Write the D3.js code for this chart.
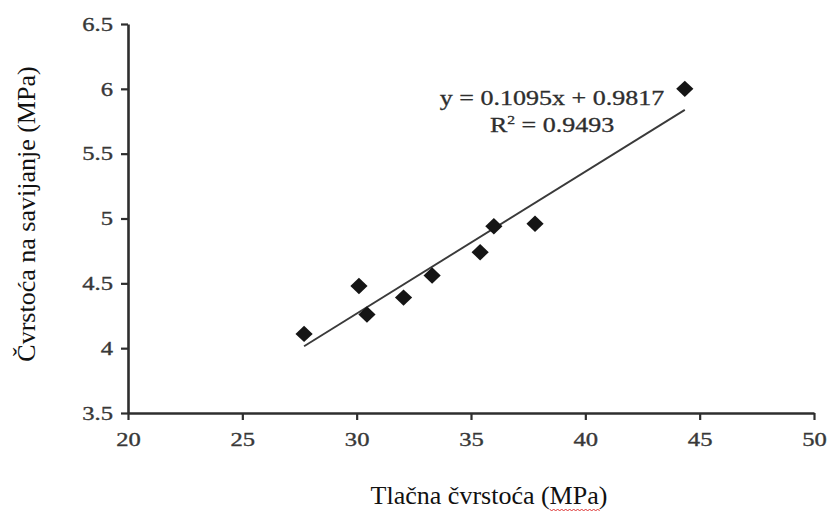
<!DOCTYPE html>
<html>
<head>
<meta charset="utf-8">
<script src="https://cdn.jsdelivr.net/npm/d3@7"></script>
<style>
  html, body { margin: 0; padding: 0; background: #fff; }
  svg { display: block; }
</style>
</head>
<body>
<svg id="chart" width="829" height="513"></svg>
<script>
// ---- data ----
const compressive = [27.7, 30.1, 30.45, 32.05, 33.3, 35.4, 36.0, 37.8, 44.35];
const flexural    = [4.11, 4.48, 4.26, 4.39, 4.56, 4.74, 4.94, 4.96, 6.0];
const slope = 0.1095;
const intercept = 0.9817;
const equationText = "y = 0.1095x + 0.9817";
const r2Text = "0.9493";
const xTicks = [20, 25, 30, 35, 40, 45, 50];
const yTicks = [3.5, 4, 4.5, 5, 5.5, 6, 6.5];
const xTitle = "Tlačna čvrstoća (MPa)";
const yTitle = "Čvrstoća na savijanje (MPa)";

// ---- layout ----
const svg = d3.select("#chart");
const font = "Liberation Serif, Times New Roman, serif";
const stretch = 1.33;

const x = d3.scaleLinear().domain([20, 50]).range([128, 814]);
const y = d3.scaleLinear().domain([3.5, 6.5]).range([413, 24]);

// axes
const xAxis = svg.append("g")
  .attr("transform", `translate(0,${y(3.5)})`)
  .call(d3.axisBottom(x).tickValues(xTicks).tickSize(7).tickSizeOuter(0).tickFormat(d3.format("d")));
const yAxis = svg.append("g")
  .attr("transform", `translate(${x(20)},0)`)
  .call(d3.axisLeft(y).tickValues(yTicks).tickSize(7).tickSizeOuter(0).tickFormat(d => String(d)));

[xAxis, yAxis].forEach(g => {
  g.attr("font-family", font);
  g.select(".domain").attr("stroke", "#2e2e2e").attr("stroke-width", 2.6);
  g.selectAll(".tick line").attr("stroke", "#2e2e2e").attr("stroke-width", 2.2);
  g.selectAll("text")
    .attr("fill", "#383838")
    .attr("stroke", "#383838").attr("stroke-width", 0.35)
    .attr("font-family", font).attr("font-size", 18.5);
});
xAxis.selectAll("text").attr("y", 20).attr("transform", `scale(${stretch},1)`);
yAxis.selectAll("text").attr("x", -15 / stretch).attr("dy", "0.34em").attr("transform", `scale(${stretch},1)`);

// trendline
const xExt = d3.extent(compressive);
const line = d3.line().x(d => x(d)).y(d => y(slope * d + intercept));
svg.append("path")
  .datum(xExt)
  .attr("d", line)
  .attr("fill", "none")
  .attr("stroke", "#3a3a3a")
  .attr("stroke-width", 1.9);

// points
const diamond = "M0,-8.2L8.6,0L0,8.2L-8.6,0Z";
svg.append("g").selectAll("path")
  .data(compressive.map((v, i) => [v, flexural[i]]))
  .join("path")
  .attr("d", diamond)
  .attr("transform", d => `translate(${x(d[0])},${y(d[1])})`)
  .attr("fill", "#151515");

// equation
const eqG = svg.append("g").attr("transform", "translate(552,0) scale(1.3,1)");
eqG.append("text")
  .attr("x", 0).attr("y", 105)
  .attr("text-anchor", "middle")
  .attr("font-family", font).attr("font-size", 20)
  .attr("fill", "#2e2e2e").attr("stroke", "#2e2e2e").attr("stroke-width", 0.3)
  .text(equationText);
const r2 = eqG.append("text")
  .attr("x", 0).attr("y", 132)
  .attr("text-anchor", "middle")
  .attr("font-family", font).attr("font-size", 20)
  .attr("fill", "#2e2e2e").attr("stroke", "#2e2e2e").attr("stroke-width", 0.3);
r2.append("tspan").text("R");
r2.append("tspan").attr("font-size", 12).attr("dy", -8).text("2");
r2.append("tspan").attr("dy", 8).text(" = " + r2Text);

// axis titles
const xt = svg.append("text")
  .attr("x", 489).attr("y", 504)
  .attr("text-anchor", "middle")
  .attr("font-family", font).attr("font-size", 26)
  .attr("fill", "#111")
  .text(xTitle);

svg.append("text")
  .attr("transform", "translate(35,214) rotate(-90)")
  .attr("text-anchor", "middle")
  .attr("font-family", font).attr("font-size", 26)
  .attr("fill", "#111")
  .text(yTitle);

// spell-check squiggle under "MPa"
(function () {
  const node = xt.node();
  const start = xTitle.indexOf("MPa");
  const bb = node.getBBox();
  const x0 = bb.x + node.getSubStringLength(0, start);
  const w = node.getSubStringLength(start, 3);
  const yb = 509;
  let d = `M${x0},${yb}`;
  for (let px = x0, k = 0; px < x0 + w; px += 2, k++) {
    d += `L${px + 2},${yb + (k % 2 === 0 ? 2 : 0)}`;
  }
  svg.append("path").attr("d", d).attr("fill", "none").attr("stroke", "#d33").attr("stroke-width", 1);
})();
</script>
</body>
</html>
